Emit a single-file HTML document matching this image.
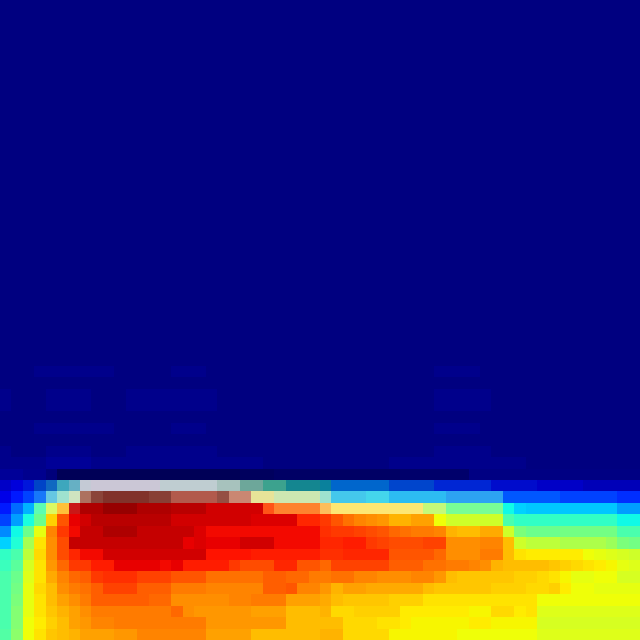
<!DOCTYPE html>
<html>
<head>
<meta charset="utf-8">
<title>Heatmap</title>
<style>
html,body{margin:0;padding:0;background:#000080;width:640px;height:640px;overflow:hidden}
svg{display:block}
</style>
</head>
<body>
<svg id="chart" width="640" height="640" viewBox="0 0 640 640" shape-rendering="crispEdges" xmlns="http://www.w3.org/2000/svg"></svg>
<script>
const quietRow = [0,0,0,0,0,0,0,0,0,0,0,0,0,0,0,0,0,0,0,0,0,0,0,0,0,0,0,0,0,0,0,0,0,0,0,0,0,0,0,0,0,0,0,0,0,0,0,0,0,0,0,0,0,0,0,0];
const faintRowA = [0,0,0,1,1,1,1,1,1,1,0,0,0,0,0,1,1,1,0,0,0,0,0,0,0,0,0,0,0,0,0,0,0,0,0,0,0,0,1,1,1,1,0,0,0,0,0,0,0,0,0,0,0,0,0,0];
const faintRowB = [1,0,0,0,1,1,1,1,0,0,0,1,1,1,1,1,1,1,1,0,0,0,0,0,0,0,0,0,0,0,0,0,0,0,0,0,0,0,1,1,1,1,1,0,0,0,0,0,0,0,0,0,0,0,0,0];
const faintRowC = [1,1,1,1,2,2,2,2,1,1,1,1,1,1,1,1,1,1,1,1,1,1,1,0,0,0,0,0,0,0,0,0,0,0,1,1,1,1,1,1,1,1,1,1,1,1,0,0,0,0,0,0,0,0,0,0];

const heatRow41 = [3,3,2,2,1,0,0,0,0,0,0,0,0,0,0,0,0,0,0,0,0,0,0,0,0,0,0,0,0,0,0,0,0,0,0,0,0,0,0,0,0,1,1,1,1,1,1,1,1,1,1,1,1,1,1,1];
const heatRow42 = [12,12,15,21,25,34,34,42,42,42,42,42,42,42,45,45,45,45,45,45,45,42,42,40,40,35,35,35,
                   33,25,25,25,25,25,21,21,21,21,17,17,17,17,17,14,14,14,14,11,11,11,11,11,11,11,11,11];
const heatRow43 = [9,15,19,23,30,35,40,98,100,100,100,100,100,100,100,97,97,97,97,100,95,95,66,66,50,50,50,50,
                   35,31,31,31,33,33,30,30,30,30,30,27,27,27,27,27,21,21,21,21,21,19,19,19,19,19,17,17];
const heatRow44 = [15,23,30,44,60,72,94,96,96,98,98,98,96,96,96,95,95,95,93,93,93,93,93,84,80,80,80,80,
                   74,67,67,67,67,67,67,67,67,56,56,48,48,48,48,48,37,33,32,32,32,32,32,32,32,32,28,28];
const heatRow45 = [19,28,38,48,69,82,91,93,95,95,95,95,95,95,95,93,93,93,93,93,93,93,92,92,92,92,87,87,
                   85,82,79,77,76,75,72,72,74,74,64,60,60,60,60,60,44,41,41,41,41,41,41,41,41,41,37,37];
const heatRow46 = [26,37,48,63,77,85,90,94,94,96,96,96,94,94,94,94,94,92,90,90,90,90,90,90,90,90,90,90,
                   86,85,85,84,83,82,80,79,78,78,77,72,71,71,73,73,60,50,48,48,48,49,49,49,49,49,44,44];
const heatRow47 = [33,39,55,67,76,83,94,94,94,94,94,94,94,94,94,94,91,92,91,91,91,93,93,93,90,90,90,90,
                   87,87,88,88,85,84,83,83,83,84,84,76,76,76,77,77,71,60,58,58,58,56,56,56,56,54,50,49];
const heatRow48 = [41,44,58,68,76,83,87,90,90,93,93,93,93,93,93,93,93,93,89,89,89,89,88,88,88,88,88,88,
                   86,86,87,87,87,87,82,82,82,82,80,76,76,76,78,78,71,67,66,66,66,66,66,64,63,62,61,60];
const heatRow49 = [42,46,61,67,75,80,85,85,88,88,91,91,91,91,90,91,88,88,88,88,85,83,83,83,87,87,82,82,
                   80,84,84,84,84,84,81,81,81,79,79,78,78,77,76,72,71,71,71,71,70,69,68,67,66,65,63,62];
const heatRow50 = [44,48,62,67,73,77,80,81,85,86,86,86,84,84,84,82,82,82,79,79,79,79,79,81,81,80,80,78,
                   78,79,79,77,77,76,76,76,77,77,75,71,70,70,70,70,70,69,69,68,67,65,63,63,64,64,61,61];
const heatRow51 = [44,49,63,68,71,76,78,79,81,84,84,84,81,81,81,78,78,78,77,77,77,77,77,81,81,82,77,77,
                   75,72,74,74,73,73,73,73,73,71,70,70,70,70,70,69,69,69,68,68,69,66,64,64,63,63,63,63];
const heatRow52 = [44,50,63,67,71,74,76,78,81,81,81,81,81,80,80,76,76,76,76,76,77,77,78,78,78,74,74,74,
                   73,71,70,70,70,70,69,69,69,67,67,67,67,67,67,67,67,67,67,64,64,64,64,64,64,64,64,64];
const heatRow53 = [44,51,63,67,70,72,74,76,78,78,78,78,78,78,78,80,76,75,75,75,75,75,74,74,74,71,71,71,
                   72,68,68,69,69,69,69,66,66,66,66,66,66,65,65,68,68,66,67,62,62,62,62,62,62,62,62,62];
const heatRow54 = [44,51,64,66,69,71,74,75,77,77,78,78,78,78,78,78,78,78,75,75,75,75,75,75,75,71,71,71,
                   71,71,68,68,68,67,67,66,65,65,65,65,65,66,66,65,65,65,65,61,61,61,61,61,61,61,61,61];
const heatRow55 = [45,52,64,67,70,71,72,74,74,74,75,75,77,77,77,77,77,77,74,74,74,74,71,71,71,71,71,71,
                   72,72,68,68,68,68,65,65,65,65,65,65,64,64,64,64,64,64,64,62,62,62,62,62,62,62,62,62];

const heatRows = [
  quietRow,quietRow,quietRow,quietRow,quietRow,quietRow,quietRow,quietRow,quietRow,quietRow,
  quietRow,quietRow,quietRow,quietRow,quietRow,quietRow,quietRow,quietRow,quietRow,quietRow,
  quietRow,quietRow,quietRow,quietRow,quietRow,quietRow,quietRow,quietRow,quietRow,quietRow,
  quietRow,quietRow,faintRowA,quietRow,faintRowB,faintRowB,quietRow,faintRowA,quietRow,faintRowB,
  faintRowC,heatRow41,heatRow42,heatRow43,heatRow44,heatRow45,heatRow46,heatRow47,heatRow48,heatRow49,
  heatRow50,heatRow51,heatRow52,heatRow53,heatRow54,heatRow55
];

const bleedRow41 = [.1,.1,.1,.1,.2,.6,.6,.6,.6,.6,.6,.6,.6,.6,.6,.6,.6,.6,.6,.6,.6,.5,.5,.5,.4,.4,.4,.4,
                    .4,.4,.4,.4,.4,.4,.4,.3,.3,.3,.3,.3,.3,.1,.1,.1,.1,.1,.1,.1,.1,.1,.1,.1,.1,.1,.1,.1];
const bleedRow42 = [0,0,0,0,.08,.3,.5,.95,1,1,1,1,1,1,.9,.9,.9,.9,.9,.75,.75,.45,.45,.2,.2,.1,.1,.1,
                    .05,0,0,0,0,0,0,0,0,0,0,0,0,0,0,0,0,0,0,0,0,0,0,0,0,0,0,0];
const bleedRow43 = [0,0,0,.1,.45,.7,.9,.5,.3,.22,.22,.22,.22,.28,.28,.4,.4,.4,.4,.35,.6,.6,.8,.8,.8,.8,.8,.8,
                    .7,.3,.3,.3,.3,.3,.2,.2,.2,.2,.2,.2,.2,.2,.2,.2,0,0,0,0,0,0,0,0,0,0,0,0];
const bleedRow44 = [0,0,0,.1,.3,.25,.1,0,0,0,0,0,0,0,0,0,0,0,0,0,0,0,0,.1,.2,.2,.2,.2,
                    .4,.5,.5,.5,.5,.5,.5,.5,.5,.3,.3,.1,.1,.1,.1,.1,0,0,0,0,0,0,0,0,0,0,0,0];
const bleedRows = {41: bleedRow41, 42: bleedRow42, 43: bleedRow43, 44: bleedRow44};
const bleedTints = {41: [0,0,60], 42: [203,199,214], 43: [225,225,190], 44: [250,235,230]};

const dimRow42 = [.78,.86,.86,.78,.75,.7,.7,1,1,1,1,1,1,1,1,1,1,1,1,.7,.7,.55,.55,.6,.6,.55,.55,.55,
                  .6,.8,.8,.8,.8,.8,.8,.8,.8,.8,.83,.83,.83,.83,.83,.8,.8,.8,.8,.78,.78,.78,.78,.72,.72,.72,.72,.72];
const dimRow43 = [1,1,1,1,1,1,1,.8,.8,.8,.8,.8,.8,.8,.8,.9,.9,.9,.9,.85,.9,.9,1,1,1,1,1,1,
                  1,1,1,1,1,1,1,1,1,1,1,1,1,1,1,1,1,1,1,1,1,1,1,1,1,1,1,1];
const dimRows = {42: dimRow42, 43: dimRow43};

const gridSize = 56;
const plotSize = 640;

function xScale(col){ return Math.round(col * plotSize / gridSize); }
function yScale(row){ return Math.round(row * plotSize / gridSize); }

function ramp(v, pts){
  for (let i = 1; i < pts.length; i++){
    if (v <= pts[i][0]){
      const a = pts[i-1], b = pts[i];
      return a[1] + (b[1]-a[1]) * (v-a[0]) / (b[0]-a[0]);
    }
  }
  return pts[pts.length-1][1];
}
function jet(v){
  return [
    255*ramp(v, [[0,0],[.35,0],[.66,1],[.89,1],[1,.5]]),
    255*ramp(v, [[0,0],[.125,0],[.375,1],[.64,1],[.91,0],[1,0]]),
    255*ramp(v, [[0,.5],[.11,1],[.34,1],[.65,0],[1,0]])
  ];
}
function cellColor(row, col){
  const base = jet(heatRows[row][col] / 100);
  const dim = dimRows[row] ? dimRows[row][col] : 1;
  const bleed = bleedRows[row] ? bleedRows[row][col] : 0;
  const tint = bleedTints[row] || [0,0,0];
  const c = base.map((b, i) => Math.round(b * dim * (1 - bleed) + tint[i] * bleed));
  return 'rgb(' + c.join(',') + ')';
}

const svg = document.getElementById('chart');
const NS = 'http://www.w3.org/2000/svg';
heatRows.forEach((values, r) => {
  values.forEach((_, c) => {
    const rect = document.createElementNS(NS, 'rect');
    rect.setAttribute('x', xScale(c));
    rect.setAttribute('y', yScale(r));
    rect.setAttribute('width', xScale(c + 1) - xScale(c));
    rect.setAttribute('height', yScale(r + 1) - yScale(r));
    rect.setAttribute('fill', cellColor(r, c));
    
    
    svg.appendChild(rect);
  });
});
</script>
</body>
</html>
